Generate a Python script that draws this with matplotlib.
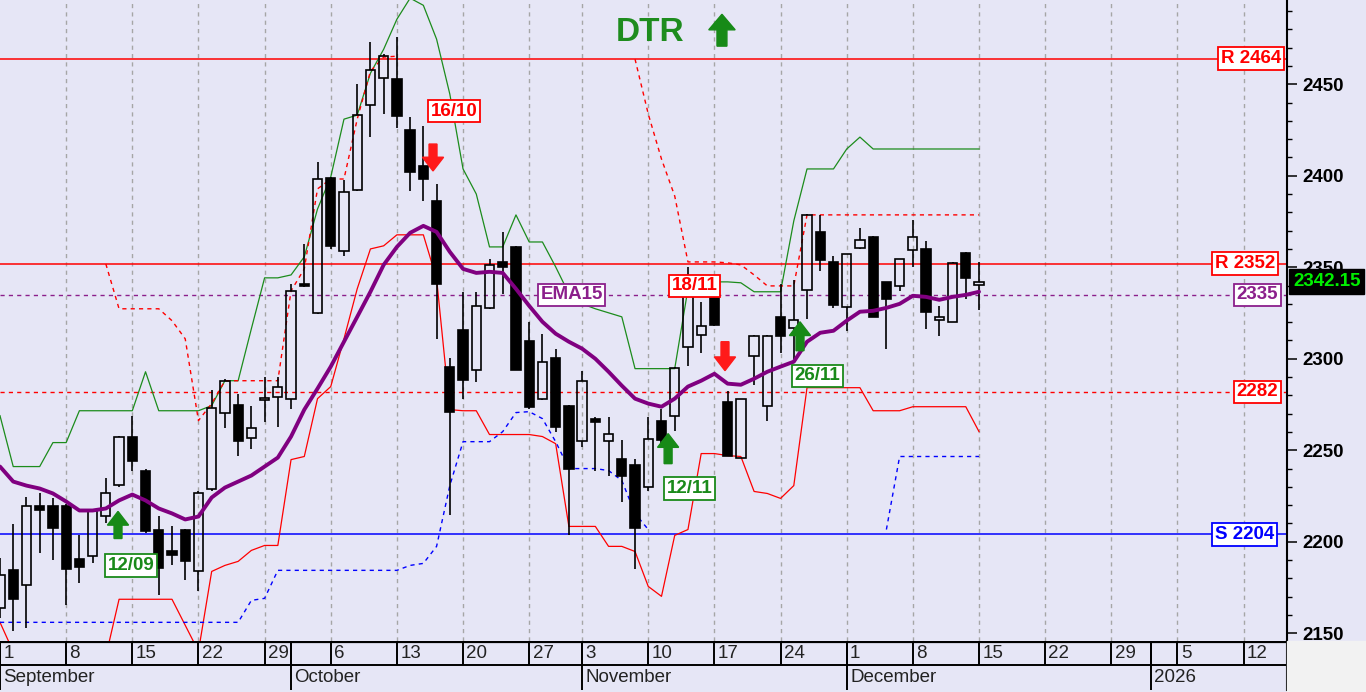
import numpy as np
import matplotlib
matplotlib.use('Agg')
import matplotlib.pyplot as plt
from matplotlib.patches import FancyArrow, Rectangle
from matplotlib.ticker import MultipleLocator
from matplotlib.transforms import blended_transform_factory

plt.rcParams['font.family'] = ['Liberation Sans', 'DejaVu Sans']

BG = '#e6e6f6'

# daily candles, Sep 1 2025 .. Dec 15 2025 (trading days)
opens = [2163.7, 2184.4, 2176.2, 2219.8, 2219.3, 2219.3, 2190.4, 2192.0, 2213.9, 2231.3,
         2257.5, 2238.9, 2206.2, 2194.8, 2206.2, 2183.8, 2228.6, 2270.6, 2274.9, 2256.9,
         2277.7, 2279.3, 2278.2, 2340.9, 2325.1, 2398.8, 2358.9, 2392.2, 2438.6, 2453.3,
         2452.8, 2424.9, 2405.3, 2386.2, 2295.7, 2315.9, 2294.0, 2327.8, 2352.9, 2361.1,
         2309.8, 2278.2, 2300.6, 2274.4, 2255.3, 2267.3, 2255.3, 2245.5, 2242.2, 2230.2,
         2266.2, 2268.9, 2306.6, 2313.1, 2333.3, 2276.6, 2246.0, 2301.7, 2274.4, 2322.9,
         2316.9, 2337.7, 2369.3, 2352.9, 2328.4, 2360.6, 2366.6, 2342.0, 2339.8, 2359.5,
         2360.0, 2321.3, 2320.2, 2357.8, 2340.4]
highs = [2190.9, 2209.5, 2224.2, 2226.4, 2223.7, 2220.4, 2203.5, 2217.7, 2234.6, 2258.0,
         2268.9, 2240.0, 2213.9, 2208.9, 2206.8, 2227.5, 2283.1, 2289.1, 2280.9, 2274.4,
         2290.2, 2290.2, 2340.9, 2362.8, 2407.5, 2399.3, 2397.7, 2450.0, 2472.9, 2466.4,
         2475.7, 2432.0, 2427.1, 2395.5, 2300.6, 2336.6, 2336.6, 2354.6, 2369.3, 2361.7,
         2320.2, 2313.7, 2305.5, 2275.0, 2293.5, 2268.4, 2268.4, 2255.8, 2245.5, 2268.4,
         2272.8, 2295.7, 2350.2, 2331.1, 2333.8, 2282.6, 2278.2, 2313.1, 2313.1, 2340.9,
         2343.1, 2379.1, 2378.6, 2356.2, 2357.3, 2371.5, 2367.1, 2342.0, 2354.6, 2375.8,
         2364.4, 2328.9, 2352.9, 2358.4, 2352.9]
lows = [2158.2, 2151.1, 2152.8, 2193.7, 2189.9, 2165.3, 2177.3, 2188.2, 2210.0, 2230.2,
        2238.9, 2204.6, 2170.8, 2187.1, 2178.9, 2172.9, 2228.0, 2261.9, 2247.1, 2250.9,
        2265.7, 2262.9, 2272.8, 2339.3, 2324.6, 2360.0, 2356.2, 2391.7, 2421.1, 2433.7,
        2426.0, 2391.7, 2386.2, 2310.9, 2214.4, 2278.2, 2287.5, 2327.3, 2335.5, 2294.0,
        2272.8, 2277.7, 2260.2, 2203.5, 2252.0, 2238.9, 2235.7, 2221.5, 2184.9, 2227.5,
        2252.0, 2260.8, 2296.2, 2303.3, 2318.0, 2246.6, 2246.0, 2285.8, 2266.2, 2303.3,
        2300.0, 2321.8, 2348.0, 2327.8, 2315.3, 2360.0, 2322.9, 2305.5, 2337.1, 2350.2,
        2316.4, 2312.6, 2320.2, 2332.8, 2326.8]
closes = [2181.7, 2168.6, 2219.3, 2217.1, 2207.3, 2184.9, 2186.0, 2216.6, 2226.4, 2257.5,
          2243.9, 2205.7, 2185.5, 2192.6, 2189.3, 2226.4, 2273.3, 2288.0, 2255.3, 2262.4,
          2278.8, 2284.8, 2337.1, 2339.8, 2398.2, 2361.7, 2391.1, 2433.1, 2457.7, 2465.3,
          2432.6, 2402.0, 2398.2, 2340.9, 2271.1, 2288.6, 2328.9, 2351.3, 2350.2, 2294.0,
          2273.9, 2298.4, 2262.9, 2240.0, 2288.0, 2265.7, 2259.1, 2236.2, 2207.3, 2256.4,
          2255.8, 2295.1, 2345.3, 2318.0, 2318.6, 2247.1, 2278.2, 2312.6, 2312.6, 2312.6,
          2321.3, 2378.6, 2354.0, 2329.5, 2357.3, 2364.9, 2322.9, 2332.8, 2354.6, 2366.6,
          2325.7, 2322.9, 2352.4, 2344.2, 2342.15]

ema15 = [2241.1, 2232.9, 2230.7, 2229.1, 2226.4, 2222.0, 2217.1, 2217.1, 2218.2, 2222.6,
         2225.8, 2222.6, 2218.2, 2215.5, 2212.2, 2213.8, 2224.2, 2229.6, 2232.9, 2236.2,
         2241.1, 2246.0, 2257.5, 2272.2, 2283.7, 2295.7, 2309.3, 2322.9, 2336.6, 2351.3,
         2361.1, 2368.8, 2372.6, 2369.3, 2358.4, 2349.1, 2346.9, 2347.5, 2346.9, 2338.2,
         2328.9, 2320.2, 2313.7, 2309.3, 2305.5, 2300.0, 2292.9, 2285.3, 2278.2, 2275.5,
         2273.8, 2278.2, 2284.8, 2288.0, 2291.8, 2286.4, 2285.8, 2289.1, 2292.9, 2295.7,
         2298.4, 2309.3, 2314.2, 2315.3, 2320.8, 2325.7, 2326.2, 2327.8, 2330.0, 2334.4,
         2333.8, 2332.2, 2333.8, 2334.9, 2336.6]

upper_band = [2268.9, 2241.1, 2241.1, 2241.1, 2254.2, 2254.2, 2271.6, 2271.6, 2271.6, 2271.6,
              2271.6, 2292.9, 2271.6, 2271.6, 2271.6, 2271.6, 2274.4, 2288.0, 2288.0, 2316.4,
              2344.2, 2344.2, 2345.8, 2355.7, 2381.8, 2399.3, 2430.9, 2433.1, 2456.0, 2469.1,
              2485.5, 2497.0, 2493.1, 2474.6, 2444.6, 2403.7, 2390.0, 2361.1, 2361.1, 2378.6,
              2363.8, 2363.8, 2350.2, 2335.5, 2330.0, 2327.3, 2325.1, 2322.9, 2294.6, 2294.6,
              2294.6, 2294.6, 2338.2, 2342.0, 2342.0, 2342.0, 2341.5, 2336.6, 2336.6, 2336.6,
              2375.3, 2403.7, 2403.7, 2403.7, 2414.6, 2421.1, 2414.6, 2414.6, 2414.6, 2414.6,
              2414.6, 2414.6, 2414.6, 2414.6, 2414.6]

lower_band = [2156.0, 2140.0, 2135.0, 2135.0, 2135.0, 2135.0, 2135.0, 2135.0, 2137.5, 2168.6,
              2168.6, 2168.6, 2168.6, 2168.6, 2154.4, 2140.2, 2183.8, 2187.1, 2189.3, 2195.3,
              2198.0, 2198.0, 2244.9, 2246.6, 2278.2, 2284.8, 2310.9, 2338.2, 2360.0, 2361.7,
              2367.7, 2367.7, 2367.7, 2343.7, 2272.2, 2271.6, 2271.6, 2258.6, 2258.6, 2258.6,
              2258.6, 2257.5, 2253.6, 2208.4, 2208.4, 2208.4, 2197.5, 2197.5, 2194.7, 2175.6,
              2170.2, 2203.5, 2206.7, 2248.2, 2248.2, 2247.1, 2246.6, 2227.5, 2226.4, 2223.7,
              2230.7, 2284.2, 2284.2, 2284.2, 2284.2, 2284.2, 2271.6, 2271.6, 2271.6, 2273.8,
              2273.8, 2273.8, 2273.8, 2273.8, 2260.2]

nan = np.nan
upper_stop = [nan, nan, nan, nan, nan, nan, nan, nan, 2351.8, 2327.3,
              2327.3, 2327.3, 2327.3, 2320.8, 2310.9, 2266.2, 2275.5, 2288.0, 2288.0, 2288.0,
              2288.0, 2288.0, 2337.1, 2349.1, 2392.8, 2398.2, 2398.2, 2430.9, 2457.1, 2464.8,
              2465.3, nan, nan, nan, nan, nan, nan, nan, nan, nan,
              nan, nan, nan, nan, nan, nan, nan, nan, 2463.7, 2433.7,
              2409.1, 2388.9, 2352.9, 2352.9, 2352.9, 2352.4, 2351.3, 2345.8, 2339.8, 2339.8,
              2339.8, 2378.6, 2378.6, 2378.6, 2378.6, 2378.6, 2378.6, 2378.6, 2378.6, 2378.6,
              2378.6, 2378.6, 2378.6, 2378.6, 2378.6]

lower_stop = [2156.0, 2156.0, 2156.0, 2156.0, 2156.0, 2156.0, 2156.0, 2156.0, 2156.0, 2156.0,
              2156.0, 2156.0, 2156.0, 2156.0, 2156.0, 2156.0, 2156.0, 2156.0, 2156.0, 2168.0,
              2169.1, 2184.4, 2184.4, 2184.4, 2184.4, 2184.4, 2184.4, 2184.4, 2184.4, 2184.4,
              2184.4, 2187.1, 2188.2, 2197.5, 2230.7, 2254.7, 2254.7, 2254.7, 2260.2, 2270.6,
              2271.1, 2267.3, 2254.7, 2240.0, 2240.0, 2240.0, 2238.9, 2233.5, 2215.5, 2206.7,
              nan, nan, nan, nan, nan, nan, nan, nan, nan, nan,
              nan, nan, nan, nan, nan, nan, nan, 2206.7, 2246.6, 2246.6,
              2246.6, 2246.6, 2246.6, 2246.6, 2246.6]

# horizontal levels: value, label, colour, dashed, label x (bar units)
levels = [(2464, 'R 2464', '#ff0000', False, 94.55),
          (2352, 'R 2352', '#ff0000', False, 94.1),
          (2335, '2335', '#8b1f8b', True, 95.05),
          (2282, '2282', '#ff0000', True, 95.05),
          (2204, 'S 2204', '#0000ff', False, 94.05)]

# signal labels: text, x, y, colour
signal_labels = [('16/10', 34.3, 2435.3, '#ff0000'),
                 ('18/11', 52.5, 2339.8, '#ff0000'),
                 ('26/11', 61.8, 2290.7, '#1a8a1a'),
                 ('12/11', 52.15, 2229.1, '#1a8a1a'),
                 ('12/09', 9.9, 2187.1, '#1a8a1a')]
# arrows: x, y start, y end, colour
signal_arrows = [(8.92, 2201.8, 2216.6, '#178a17'),
                 (50.5, 2242.7, 2259.1, '#178a17'),
                 (60.47, 2304.4, 2320.2, '#178a17'),
                 (32.73, 2417.3, 2402.6, '#ff1a1a'),
                 (54.8, 2309.3, 2293.5, '#ff1a1a')]

day_ticks = [0, 5, 10, 15, 20, 22, 25, 30, 35, 40, 44, 49, 54, 59, 64, 69, 74, 79, 84, 87, 89, 94]
day_labels = ['1', '8', '15', '22', '29', '', '6', '13', '20', '27', '3', '10', '17', '24',
              '1', '8', '15', '22', '29', '', '5', '12']
month_ticks = [0, 22, 44, 64, 87]
month_labels = ['September', 'October', 'November', 'December', '2026']
week_grid = [5, 10, 15, 20, 25, 30, 35, 40, 44, 49, 54, 59, 64, 69, 74, 79, 84, 89, 94]

XMAX = 97.28
YMIN, YMAX = 2145.8, 2496.0
LBL = 13.5

fig = plt.figure(figsize=(13.66, 6.92), dpi=100, facecolor=BG)
ax = fig.add_axes([0, 51 / 692, 1287 / 1366, 641 / 692])
ax.set_facecolor(BG)
ax.set_xlim(0, XMAX)
ax.set_ylim(YMIN, YMAX)

for g in week_grid:
    ax.axvline(g, color='#a6a6a6', lw=1, ls=(0, (3, 3)), zorder=1)

# levels
for val, txt, col, dashed, lx in levels:
    ax.axhline(val, color=col, lw=1.1 if not dashed else 1.0,
               ls=(0, (3, 3)) if dashed else '-', zorder=2)
    ax.text(lx, val, txt, color=col, fontsize=LBL, fontweight='bold', ha='center', va='center',
            zorder=8, bbox=dict(boxstyle='square,pad=0.14', fc='white', ec=col, lw=1.3))

x = np.arange(len(closes))
o = np.array(opens); h = np.array(highs); l = np.array(lows); c = np.array(closes)
top = np.maximum(o, c); bot = np.minimum(o, c)
up = c >= o

ax.plot(x, upper_band, color='#1c8c1c', lw=0.9, zorder=3)
ax.plot(x, lower_band, color='#ff0000', lw=0.9, zorder=3)
ax.plot(x, upper_stop, color='#ff0000', lw=1.0, ls=(0, (3, 3)), zorder=3)
ax.plot(x, lower_stop, color='#0000ff', lw=1.0, ls=(0, (3, 3)), zorder=3)

ax.vlines(x, top, h, color='black', lw=1.2, zorder=4)
ax.vlines(x, l, bot, color='black', lw=1.2, zorder=4)
ax.bar(x[up], (top - bot)[up], bottom=bot[up], width=0.7, facecolor='none',
       edgecolor='black', lw=1.2, zorder=4)
ax.bar(x[~up], (top - bot)[~up], bottom=bot[~up], width=0.7, color='black',
       edgecolor='black', lw=1.2, zorder=4)

ax.plot(x, ema15, color='#800080', lw=2.8, zorder=5, solid_capstyle='round')

ax.text(43.2, 2335, 'EMA15', color='#8b1f8b', fontsize=LBL, fontweight='bold', ha='center',
        va='center', zorder=8,
        bbox=dict(boxstyle='square,pad=0.14', fc='white', ec='#8b1f8b', lw=1.3))

for txt, tx, ty, col in signal_labels:
    ax.text(tx, ty, txt, color=col, fontsize=LBL, fontweight='bold', ha='center', va='center',
            zorder=8, bbox=dict(boxstyle='square,pad=0.14', fc='white', ec=col, lw=1.3))

for ax_x, y0, y1, col in signal_arrows:
    ax.add_patch(FancyArrow(ax_x, y0, 0, y1 - y0, width=0.6, head_width=1.6, head_length=7.5,
                            length_includes_head=True, color=col, zorder=7))

ax.text(49.1, 2478.4, 'DTR', color='#1e8c1e', fontsize=24, fontweight='bold',
        ha='center', va='center', zorder=8)
ax.add_patch(FancyArrow(54.57, 2470.8, 0, 17.4, width=0.75, head_width=2.0, head_length=8.5,
                        length_includes_head=True, color='#178a17', zorder=7))

# price axis on the right
ax.yaxis.tick_right()
ax.set_yticks(np.arange(2150, 2500, 50))
ax.yaxis.set_minor_locator(MultipleLocator(10))
ax.tick_params(axis='y', which='major', length=7, width=1.1, pad=4, labelsize=13.5,
               direction='out', colors='black')
ax.tick_params(axis='y', which='minor', length=3.5, width=1.0, direction='out')
for t in ax.get_yticklabels():
    t.set_fontweight('bold')
ax.set_xticks([])
for s in ['left', 'top', 'bottom']:
    ax.spines[s].set_visible(False)
ax.spines['right'].set_linewidth(1.5)

ax.annotate('2500', xy=(1, 2500), xycoords=('axes fraction', 'data'), xytext=(15.3, 0),
            textcoords='offset pixels', ha='left', va='center', fontsize=13.5,
            fontweight='bold', annotation_clip=False)

tr = blended_transform_factory(ax.transAxes, ax.transData)
ax.text(1.0 + 6 / 1287, 2342.15, '2342.15', transform=tr, color='#00ee00', fontsize=13.5,
        fontweight='bold', ha='left', va='center', zorder=10, clip_on=False,
        bbox=dict(boxstyle='square,pad=0.2', fc='black', ec='black'))

# date strip
ax2 = fig.add_axes([0, 2 / 692, 1287 / 1366, 49 / 692])
ax2.set_facecolor(BG)
ax2.set_xlim(0, XMAX)
ax2.set_ylim(0, 49)
ax2.set_xticks([]); ax2.set_yticks([])
for s in ['left', 'top', 'bottom']:
    ax2.spines[s].set_visible(False)
ax2.spines['right'].set_linewidth(1.5)
ax2.axhline(48.5, color='black', lw=1.6)
ax2.axhline(25, color='black', lw=1.4)
for t, lab in zip(day_ticks, day_labels):
    ax2.vlines(t, 25, 49, color='black', lw=1.4)
    ax2.text(t + 0.25, 36.5, lab, fontsize=13.5, color='#222222', ha='left', va='center')
for t, lab in zip(month_ticks, month_labels):
    ax2.vlines(t, 0, 49, color='black', lw=1.4)
    ax2.text(t + 0.25, 12.5, lab, fontsize=13.5, color='#222222', ha='left', va='center')

fig.patches.append(Rectangle((1287 / 1366, 0), 79 / 1366, 51 / 692,
                             transform=fig.transFigure, color='#f2f2f2', zorder=0))

fig.savefig('out.png', dpi=100, facecolor=BG)
